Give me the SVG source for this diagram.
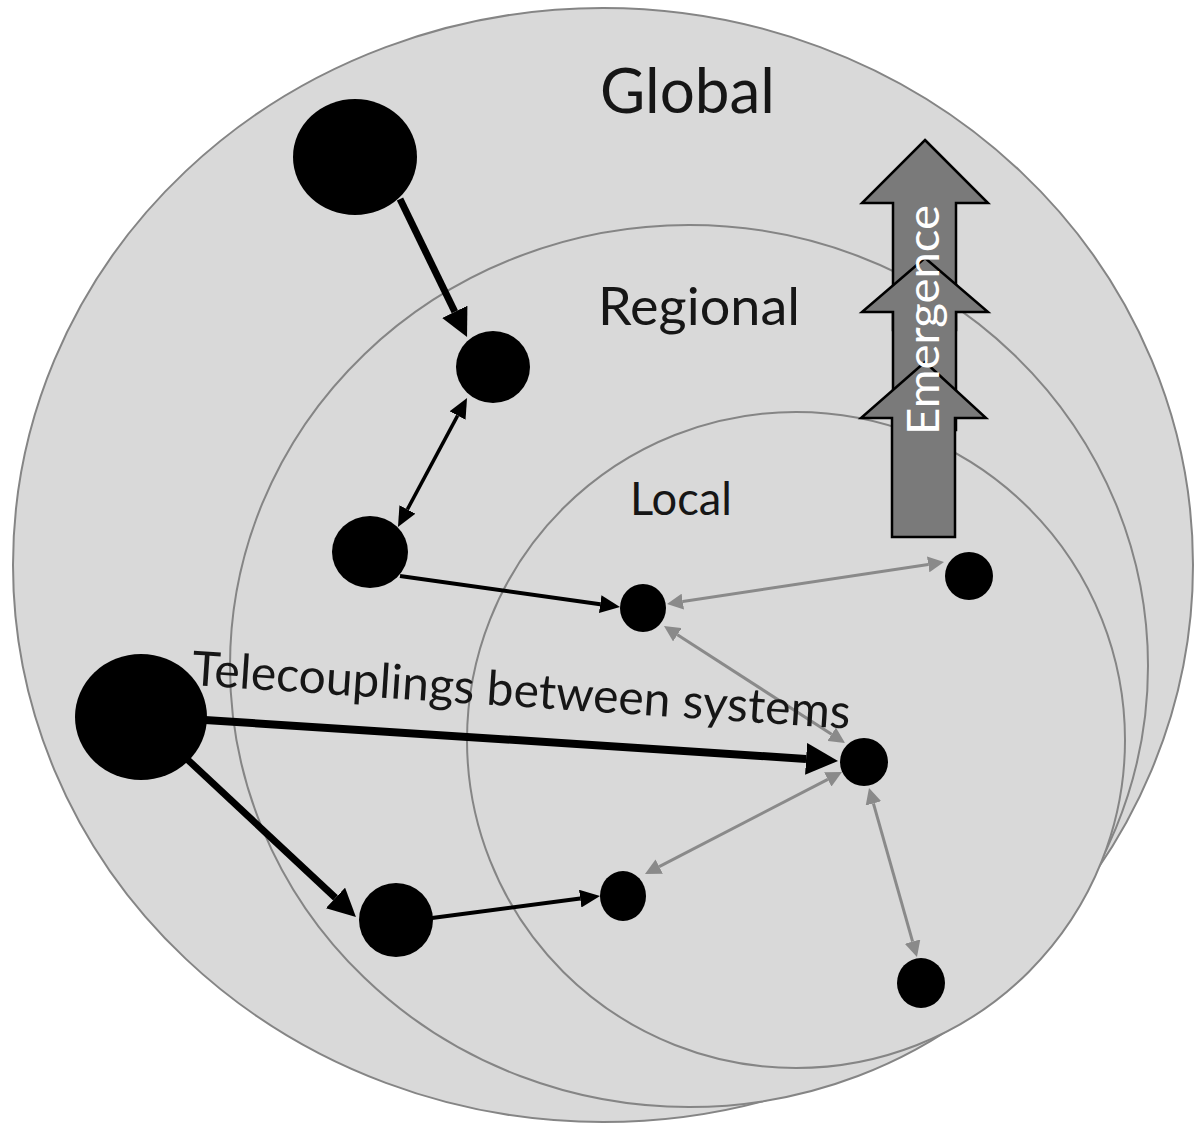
<svg xmlns="http://www.w3.org/2000/svg" width="1194" height="1124" viewBox="0 0 1194 1124">
  <style>
    .scale { fill: #d9d9d9; stroke: #858585; stroke-width: 2; }
    .node { fill: #000000; }
    .blk { stroke: #000000; fill: none; stroke-linecap: butt; }
    .gry { stroke: #8a8a8a; fill: none; stroke-width: 3; }
    .lbl { font-family: Lato, "Liberation Sans", sans-serif; fill: #161616; }
    .emer { fill: #7a7a7a; stroke: #000000; stroke-width: 2.5; stroke-linejoin: miter; }
  </style>
  <defs>
    <marker id="mBig" markerUnits="userSpaceOnUse" markerWidth="32" markerHeight="32" viewBox="0 -16 32 32" refX="0" refY="0" orient="auto">
      <path d="M0,-16 L32,0 L0,16 z" fill="#000"/>
    </marker>
    <marker id="mThick" markerUnits="userSpaceOnUse" markerWidth="28" markerHeight="28" viewBox="0 -14 28 28" refX="0" refY="0" orient="auto">
      <path d="M0,-14 L28,0 L0,14 z" fill="#000"/>
    </marker>
    <marker id="mMed" markerUnits="userSpaceOnUse" markerWidth="20" markerHeight="18" viewBox="0 -9 20 18" refX="0" refY="0" orient="auto-start-reverse">
      <path d="M0,-9 L20,0 L0,9 z" fill="#000"/>
    </marker>
    <marker id="mGrey" markerUnits="userSpaceOnUse" markerWidth="16" markerHeight="16" viewBox="0 -8 16 16" refX="0" refY="0" orient="auto-start-reverse">
      <path d="M0,-8 L16,0 L0,8 z" fill="#8a8a8a"/>
    </marker>
  </defs>

  <g id="scales">
    <ellipse id="global-scale" class="scale" cx="603" cy="565" rx="590" ry="557"/>
    <ellipse id="regional-scale" class="scale" cx="689" cy="666" rx="459" ry="441"/>
    <ellipse id="local-scale" class="scale" cx="796" cy="740" rx="329" ry="328"/>
  </g>

  <g id="emergence">
    <polygon class="emer" points="925,140 988,203 956,203 956,330 893,330 893,203 862,203"/>
    <polygon class="emer" points="925,258 988,312 956,312 956,430 893,430 893,312 862,312"/>
    <polygon class="emer" points="925,362 986,418 955,418 955,537 892,537 892,418 861,418"/>
  </g>

  <g id="connectors">
    <line class="blk" stroke-width="7" x1="400" y1="199" x2="454.8" y2="311.8" marker-end="url(#mThick)"/>
    <line class="blk" stroke-width="3.5" x1="407.4" y1="509.4" x2="457.6" y2="415.6" marker-start="url(#mMed)" marker-end="url(#mMed)"/>
    <line class="blk" stroke-width="4" x1="400" y1="576" x2="600.2" y2="604.2" marker-end="url(#mMed)"/>
    <line class="blk" stroke-width="8" x1="205" y1="720" x2="806.1" y2="758.9" marker-end="url(#mBig)"/>
    <line class="blk" stroke-width="7" x1="188" y1="760" x2="335.5" y2="897.9" marker-end="url(#mThick)"/>
    <line class="blk" stroke-width="4" x1="432" y1="918" x2="580.2" y2="898.6" marker-end="url(#mMed)"/>
    <line class="gry" x1="682.8" y1="601.6" x2="928.2" y2="564.4" marker-start="url(#mGrey)" marker-end="url(#mGrey)"/>
    <line class="gry" x1="677.4" y1="634.7" x2="831.6" y2="734.3" marker-start="url(#mGrey)" marker-end="url(#mGrey)"/>
    <line class="gry" x1="659.2" y1="866.6" x2="827.8" y2="779.4" marker-start="url(#mGrey)" marker-end="url(#mGrey)"/>
    <line class="gry" x1="873.4" y1="803.4" x2="912.6" y2="941.6" marker-start="url(#mGrey)" marker-end="url(#mGrey)"/>
  </g>

  <g id="n1"><ellipse class="node" cx="355" cy="157" rx="62" ry="58"/></g>
  <g id="n2"><ellipse class="node" cx="493" cy="367" rx="37" ry="36"/></g>
  <g id="n3"><ellipse class="node" cx="370" cy="552" rx="38" ry="36"/></g>
  <g id="n4"><ellipse class="node" cx="643" cy="608" rx="23" ry="24"/></g>
  <g id="n5"><ellipse class="node" cx="969" cy="576" rx="24" ry="24"/></g>
  <g id="n6"><ellipse class="node" cx="141" cy="717" rx="66" ry="63"/></g>
  <g id="n7"><ellipse class="node" cx="864" cy="762" rx="24" ry="24"/></g>
  <g id="n8"><ellipse class="node" cx="396" cy="920" rx="37" ry="37"/></g>
  <g id="n9"><ellipse class="node" cx="623" cy="896" rx="23" ry="25"/></g>
  <g id="n10"><ellipse class="node" cx="921" cy="983" rx="24" ry="25"/></g>

  <g id="labels">
    <text class="lbl" x="600" y="113" font-size="62" textLength="175" lengthAdjust="spacingAndGlyphs">Global</text>
    <text class="lbl" x="598" y="325" font-size="53" textLength="202" lengthAdjust="spacingAndGlyphs">Regional</text>
    <text class="lbl" x="630" y="515" font-size="46" textLength="102" lengthAdjust="spacingAndGlyphs">Local</text>
    <text class="lbl" x="191" y="685" font-size="48" textLength="660" lengthAdjust="spacingAndGlyphs" transform="rotate(3.8 191 685)">Telecouplings between systems</text>
    <text class="lbl" x="0" y="0" font-size="45" style="fill:#ffffff" text-anchor="middle" textLength="230" lengthAdjust="spacingAndGlyphs" transform="translate(939 320) rotate(-90)">Emergence</text>
  </g>
</svg>
